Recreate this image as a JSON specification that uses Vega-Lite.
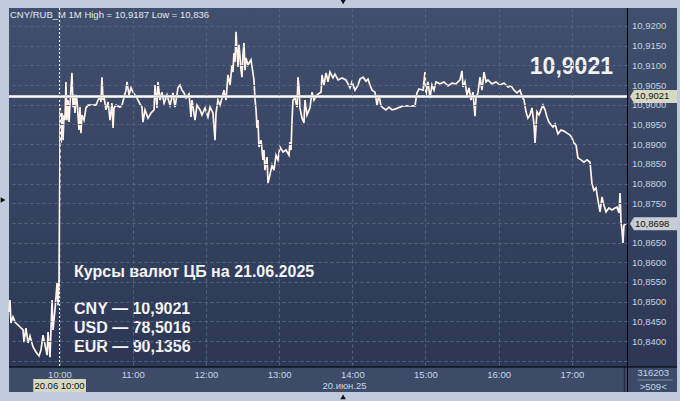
{
  "$schema": "https://vega.github.io/schema/vega-lite/v6.json",
  "width": 618,
  "height": 359,
  "autosize": {"type": "none"},
  "padding": {"left": 9, "top": 8, "right": 53, "bottom": 34},
  "background": "#bfcbdc",
  "config": {"view": {"stroke": null}, "font": "Liberation Sans", "axis": {"labelOverlap": false, "labelSeparation": 0}},
  "data": {"values": [
    {"m":-41.4,"p":10.8474},{"m":-40.6,"p":10.8504},{"m":-39.8,"p":10.8446},{"m":-38.1,"p":10.8461},{"m":-36.5,"p":10.8448},
    {"m":-29.9,"p":10.8428},{"m":-29.1,"p":10.8397},{"m":-27.5,"p":10.8433},{"m":-25.8,"p":10.8395},{"m":-24.2,"p":10.8413},
    {"m":-21.7,"p":10.8385},{"m":-19.3,"p":10.8372},{"m":-16.8,"p":10.8362},{"m":-15.2,"p":10.8377},{"m":-13.5,"p":10.8415},
    {"m":-11.9,"p":10.8390},{"m":-10.2,"p":10.8364},{"m":-9.4,"p":10.8423},{"m":-7.8,"p":10.8359},{"m":-6.1,"p":10.8504},
    {"m":-5.3,"p":10.8428},{"m":-3.7,"p":10.8479},{"m":-2.0,"p":10.8547},{"m":-1.2,"p":10.8491},{"m":-0.4,"p":10.8555},
    {"m":0.3,"p":10.8852},{"m":0.6,"p":10.8992},{"m":1.2,"p":10.8903},{"m":2.0,"p":10.8979},{"m":2.9,"p":10.8910},
    {"m":3.7,"p":10.8974},{"m":4.5,"p":10.8961},{"m":5.3,"p":10.9058},{"m":6.1,"p":10.8961},{"m":7.0,"p":10.9012},
    {"m":7.8,"p":10.8956},{"m":8.6,"p":10.9002},{"m":10.2,"p":10.9081},{"m":11.1,"p":10.8994},{"m":11.9,"p":10.9025},
    {"m":12.7,"p":10.8979},{"m":13.5,"p":10.9025},{"m":14.3,"p":10.9012},{"m":16.0,"p":10.8936},{"m":16.8,"p":10.8994},
    {"m":17.6,"p":10.8928},{"m":18.4,"p":10.8974},{"m":20.1,"p":10.8961},{"m":21.7,"p":10.8992},{"m":23.4,"p":10.8999},
    {"m":26.6,"p":10.8999},{"m":29.9,"p":10.8999},{"m":31.6,"p":10.9012},{"m":33.2,"p":10.9020},{"m":34.0,"p":10.9007},
    {"m":34.8,"p":10.9070},{"m":35.7,"p":10.9012},{"m":36.5,"p":10.9020},{"m":38.1,"p":10.8987},{"m":39.8,"p":10.9007},
    {"m":41.4,"p":10.8961},{"m":43.0,"p":10.9004},{"m":43.9,"p":10.8941},{"m":44.7,"p":10.8992},{"m":46.3,"p":10.8999},
    {"m":49.6,"p":10.8994},{"m":51.2,"p":10.8999},{"m":54.5,"p":10.9037},{"m":55.3,"p":10.9058},{"m":57.0,"p":10.9025},
    {"m":58.6,"p":10.9043},{"m":60.2,"p":10.9032},{"m":61.9,"p":10.9025},{"m":63.5,"p":10.9017},{"m":66.0,"p":10.9002},
    {"m":67.6,"p":10.8994},{"m":68.4,"p":10.8956},{"m":70.1,"p":10.8987},{"m":72.5,"p":10.8966},{"m":75.0,"p":10.8979},
    {"m":77.5,"p":10.8987},{"m":78.3,"p":10.9050},{"m":79.9,"p":10.8992},{"m":80.7,"p":10.9058},{"m":82.4,"p":10.9012},
    {"m":84.0,"p":10.9032},{"m":85.7,"p":10.9004},{"m":88.1,"p":10.9025},{"m":90.6,"p":10.8999},{"m":93.0,"p":10.9030},
    {"m":94.7,"p":10.8994},{"m":97.1,"p":10.9043},{"m":98.8,"p":10.9050},{"m":100.4,"p":10.9037},{"m":102.1,"p":10.9030},
    {"m":103.7,"p":10.9017},{"m":106.2,"p":10.9027},{"m":107.8,"p":10.8969},{"m":108.6,"p":10.9012},{"m":111.1,"p":10.8961},
    {"m":112.7,"p":10.8999},{"m":115.2,"p":10.8987},{"m":116.8,"p":10.8974},{"m":119.3,"p":10.8992},{"m":121.7,"p":10.8969},
    {"m":123.4,"p":10.8994},{"m":125.8,"p":10.8979},{"m":127.5,"p":10.8910},{"m":128.3,"p":10.8979},{"m":129.9,"p":10.9012},
    {"m":131.6,"p":10.8999},{"m":133.2,"p":10.9017},{"m":134.8,"p":10.9037},{"m":136.5,"p":10.9012},{"m":138.1,"p":10.9076},
    {"m":139.8,"p":10.9050},{"m":141.4,"p":10.9101},{"m":142.2,"p":10.9083},{"m":143.0,"p":10.9131},{"m":143.9,"p":10.9109},
    {"m":144.7,"p":10.9185},{"m":145.5,"p":10.9139},{"m":146.3,"p":10.9096},{"m":147.1,"p":10.9152},{"m":148.0,"p":10.9121},
    {"m":148.8,"p":10.9088},{"m":149.6,"p":10.9070},{"m":150.4,"p":10.9126},{"m":151.2,"p":10.9157},{"m":152.1,"p":10.9088},
    {"m":152.9,"p":10.9119},{"m":154.5,"p":10.9101},{"m":157.0,"p":10.9114},{"m":159.4,"p":10.9063},{"m":160.3,"p":10.9012},
    {"m":161.1,"p":10.8987},{"m":161.9,"p":10.8941},{"m":162.7,"p":10.8961},{"m":163.5,"p":10.8893},{"m":165.2,"p":10.8910},
    {"m":166.8,"p":10.8860},{"m":167.6,"p":10.8885},{"m":168.4,"p":10.8834},{"m":170.1,"p":10.8867},{"m":170.9,"p":10.8801},
    {"m":172.5,"p":10.8822},{"m":174.2,"p":10.8847},{"m":175.8,"p":10.8834},{"m":177.5,"p":10.8872},{"m":179.1,"p":10.8860},
    {"m":180.7,"p":10.8893},{"m":183.2,"p":10.8880},{"m":185.7,"p":10.8885},{"m":188.1,"p":10.8872},{"m":188.9,"p":10.8905},
    {"m":189.8,"p":10.8885},{"m":190.6,"p":10.8961},{"m":191.4,"p":10.9012},{"m":193.0,"p":10.9017},{"m":194.7,"p":10.8994},
    {"m":195.5,"p":10.9070},{"m":196.3,"p":10.9045},{"m":197.1,"p":10.8992},{"m":198.8,"p":10.8966},{"m":200.4,"p":10.8954},
    {"m":201.2,"p":10.9012},{"m":202.9,"p":10.8974},{"m":205.3,"p":10.8992},{"m":207.0,"p":10.9032},{"m":208.6,"p":10.9012},
    {"m":210.3,"p":10.9022},{"m":211.9,"p":10.9027},{"m":214.4,"p":10.9032},{"m":215.2,"p":10.9076},{"m":216.8,"p":10.9050},
    {"m":218.5,"p":10.9081},{"m":220.1,"p":10.9058},{"m":221.7,"p":10.9083},{"m":224.2,"p":10.9068},{"m":225.8,"p":10.9078},
    {"m":228.3,"p":10.9063},{"m":231.6,"p":10.9068},{"m":234.8,"p":10.9063},{"m":236.5,"p":10.9053},{"m":238.1,"p":10.9043},
    {"m":239.8,"p":10.9058},{"m":242.2,"p":10.9037},{"m":244.7,"p":10.9050},{"m":246.3,"p":10.9065},{"m":248.8,"p":10.9070},
    {"m":251.2,"p":10.9060},{"m":252.9,"p":10.9065},{"m":254.5,"p":10.9050},{"m":256.2,"p":10.9037},{"m":258.6,"p":10.9032},
    {"m":260.3,"p":10.8999},{"m":261.9,"p":10.9025},{"m":263.5,"p":10.8997},{"m":265.2,"p":10.8992},{"m":267.6,"p":10.8987},
    {"m":270.1,"p":10.8994},{"m":272.6,"p":10.8987},{"m":275.0,"p":10.8989},{"m":281.6,"p":10.8997},{"m":287.3,"p":10.8997},
    {"m":291.4,"p":10.8997},{"m":293.0,"p":10.9030},{"m":294.7,"p":10.9040},{"m":298.0,"p":10.9037},{"m":299.6,"p":10.9083},
    {"m":300.4,"p":10.9025},{"m":302.1,"p":10.9058},{"m":303.7,"p":10.9017},{"m":305.3,"p":10.9050},{"m":307.0,"p":10.9037},
    {"m":308.6,"p":10.9058},{"m":311.9,"p":10.9053},{"m":315.2,"p":10.9058},{"m":318.5,"p":10.9048},{"m":321.7,"p":10.9055},
    {"m":325.0,"p":10.9053},{"m":328.3,"p":10.9063},{"m":329.9,"p":10.9086},{"m":330.8,"p":10.9045},{"m":332.4,"p":10.9058},
    {"m":334.0,"p":10.9025},{"m":335.7,"p":10.9043},{"m":337.3,"p":10.9012},{"m":338.9,"p":10.9032},{"m":340.6,"p":10.8971},
    {"m":341.4,"p":10.9017},{"m":343.0,"p":10.9030},{"m":344.7,"p":10.9070},{"m":346.3,"p":10.9037},{"m":348.0,"p":10.9083},
    {"m":349.6,"p":10.9058},{"m":351.2,"p":10.9063},{"m":354.5,"p":10.9053},{"m":357.8,"p":10.9058},{"m":361.1,"p":10.9050},
    {"m":364.4,"p":10.9055},{"m":367.6,"p":10.9045},{"m":370.1,"p":10.9048},{"m":372.6,"p":10.9037},{"m":375.0,"p":10.9030},
    {"m":377.5,"p":10.9037},{"m":379.1,"p":10.9022},{"m":380.8,"p":10.9012},{"m":382.4,"p":10.8982},{"m":384.0,"p":10.8966},
    {"m":385.7,"p":10.8974},{"m":387.3,"p":10.8992},{"m":389.0,"p":10.8949},{"m":389.8,"p":10.8903},{"m":391.4,"p":10.8982},
    {"m":393.0,"p":10.8974},{"m":394.7,"p":10.8987},{"m":396.3,"p":10.8999},{"m":398.0,"p":10.8987},{"m":399.6,"p":10.8969},
    {"m":401.2,"p":10.8956},{"m":402.9,"p":10.8949},{"m":404.5,"p":10.8943},{"m":406.2,"p":10.8951},{"m":408.6,"p":10.8926},
    {"m":411.1,"p":10.8936},{"m":413.5,"p":10.8933},{"m":416.0,"p":10.8928},{"m":418.5,"p":10.8923},{"m":420.1,"p":10.8916},
    {"m":421.7,"p":10.8903},{"m":423.4,"p":10.8898},{"m":425.0,"p":10.8865},{"m":427.5,"p":10.8860},{"m":429.9,"p":10.8854},
    {"m":432.4,"p":10.8860},{"m":434.9,"p":10.8854},{"m":436.5,"p":10.8799},{"m":438.1,"p":10.8783},{"m":439.8,"p":10.8789},
    {"m":441.4,"p":10.8758},{"m":443.1,"p":10.8728},{"m":444.7,"p":10.8766},{"m":446.3,"p":10.8745},{"m":448.0,"p":10.8728},
    {"m":450.4,"p":10.8738},{"m":452.9,"p":10.8733},{"m":455.4,"p":10.8738},{"m":457.0,"p":10.8740},{"m":458.6,"p":10.8725},
    {"m":459.5,"p":10.8776},{"m":460.3,"p":10.8702},{"m":461.1,"p":10.8682},{"m":461.9,"p":10.8649},{"m":462.7,"p":10.8694},
    {"m":464.4,"p":10.8698}
  ]},
  "layer": [
    {
      "data": {"values": [{}]},
      "mark": {"type": "rect", "color": {"gradient": "linear", "x1": 0, "y1": 0, "x2": 0, "y2": 1, "stops": [{"offset": 0, "color": "#414f6e"}, {"offset": 1, "color": "#2b3755"}]}},
      "encoding": {
        "x": {"datum": -41.4, "type": "quantitative"}, "x2": {"datum": 506.2},
        "y": {"datum": 10.92457, "type": "quantitative"}, "y2": {"datum": 10.8334}
      }
    },
    {
      "data": {"values": [{}]},
      "mark": {"type": "rect", "color": "#3d4a68"},
      "encoding": {
        "x": {"datum": -41.4, "type": "quantitative"}, "x2": {"datum": 506.2},
        "y": {"datum": 10.8334, "type": "quantitative"}, "y2": {"datum": 10.82705}
      }
    },
    {
      "data": {"values": [{}]},
      "mark": {"type": "rule", "color": "#1f283c", "strokeWidth": 1},
      "encoding": {
        "x": {"datum": 463.0, "type": "quantitative"},
        "y": {"datum": 10.8334, "type": "quantitative"}, "y2": {"datum": 10.82705}
      }
    },
    {
      "data": {"values": [{}]},
      "mark": {"type": "rule", "color": "#f2f2f2", "strokeWidth": 1, "strokeDash": [2, 2]},
      "encoding": {
        "x": {"datum": 0, "type": "quantitative"},
        "y": {"datum": 10.92457, "type": "quantitative"}, "y2": {"datum": 10.8334}
      }
    },
    {
      "mark": {"type": "line", "color": "#fff3ea", "strokeWidth": 1.7},
      "encoding": {
        "x": {"field": "m", "type": "quantitative",
          "scale": {"domain": [-41.4, 465.2], "nice": false, "zero": false},
          "axis": {"values": [0, 60, 120, 180, 240, 300, 360, 420], "labelExpr": "(datum.value/60+10) + ':00'",
            "title": null, "grid": true, "gridColor": "#56647f", "gridDash": [3, 3], "domain": false, "ticks": false,
            "labelColor": "#c9d4e8", "labelFontSize": 9.5, "labelPadding": 2.5, "labelFont": "Liberation Sans",
            "labelFlush": false, "labelOverlap": false, "zindex": 1}},
        "y": {"field": "p", "type": "quantitative",
          "scale": {"domain": [10.8334, 10.92457], "nice": false, "zero": false},
          "axis": {"orient": "right", "tickCount": 17,
            "labelExpr": "(abs(datum.value-10.87)<0.0001 || datum.value < 10.837) ? '' : replace(format(datum.value, '.4f'), '.', ',')",
            "title": null, "grid": true, "gridColor": "#56647f", "gridDash": [3, 3], "domain": false, "ticks": false,
            "labelColor": "#c9d1de", "labelFontSize": 9.5, "labelPadding": 4.5, "labelFont": "Liberation Sans",
            "labelOverlap": false, "labelSeparation": 0, "labelBound": false, "labelFlush": false, "zindex": 1}}
      }
    },
    {
      "data": {"values": [{}]},
      "mark": {"type": "rule", "color": "#c4c4c4", "strokeWidth": 3},
      "encoding": {
        "x": {"datum": -41.4, "type": "quantitative"}, "x2": {"datum": 465.2},
        "y": {"datum": 10.9021, "type": "quantitative"}
      }
    },
    {
      "data": {"values": [{}]},
      "mark": {"type": "rule", "color": "#fbfbfb", "strokeWidth": 1.3},
      "encoding": {
        "x": {"datum": -41.4, "type": "quantitative"}, "x2": {"datum": 465.2},
        "y": {"datum": 10.9021, "type": "quantitative"}
      }
    },
    {
      "data": {"values": [{}]},
      "mark": {"type": "rule", "color": "#000000", "strokeWidth": 1},
      "encoding": {
        "x": {"datum": 465.6, "type": "quantitative"},
        "y": {"datum": 10.92457, "type": "quantitative"}, "y2": {"datum": 10.82705}
      }
    },
    {
      "data": {"values": [{}]},
      "mark": {"type": "rule", "color": "#000000", "strokeWidth": 1},
      "encoding": {
        "x": {"datum": -41.4, "type": "quantitative"}, "x2": {"datum": 506.2},
        "y": {"datum": 10.8334, "type": "quantitative"}
      }
    },
    {
      "data": {"values": [{}]},
      "mark": {"type": "rect", "color": "#d6d9c1"},
      "encoding": {
        "x": {"datum": 470.9, "type": "quantitative"}, "x2": {"datum": 506.2},
        "y": {"datum": 10.90375, "type": "quantitative"}, "y2": {"datum": 10.90045}
      }
    },
    {
      "data": {"values": [{}]},
      "mark": {"type": "point", "filled": true, "color": "#d6d9c1", "opacity": 1, "size": 169, "shape": "M0,-1L0,1L-0.62,0Z"},
      "encoding": {
        "x": {"datum": 470.9, "type": "quantitative"},
        "y": {"datum": 10.9021, "type": "quantitative"}
      }
    },
    {
      "data": {"values": [{}]},
      "mark": {"type": "text", "text": "10,9021", "align": "left", "baseline": "middle", "fontSize": 9.5, "color": "#111111"},
      "encoding": {
        "x": {"datum": 471.7, "type": "quantitative"},
        "y": {"datum": 10.9021, "type": "quantitative"}
      }
    },
    {
      "data": {"values": [{}]},
      "mark": {"type": "rect", "color": "#c8ccd4"},
      "encoding": {
        "x": {"datum": 470.9, "type": "quantitative"}, "x2": {"datum": 506.2},
        "y": {"datum": 10.87145, "type": "quantitative"}, "y2": {"datum": 10.86815}
      }
    },
    {
      "data": {"values": [{}]},
      "mark": {"type": "point", "filled": true, "color": "#c8ccd4", "opacity": 1, "size": 169, "shape": "M0,-1L0,1L-0.62,0Z"},
      "encoding": {
        "x": {"datum": 470.9, "type": "quantitative"},
        "y": {"datum": 10.8698, "type": "quantitative"}
      }
    },
    {
      "data": {"values": [{}]},
      "mark": {"type": "text", "text": "10,8698", "align": "left", "baseline": "middle", "fontSize": 9.5, "color": "#111111"},
      "encoding": {
        "x": {"datum": 471.7, "type": "quantitative"},
        "y": {"datum": 10.8698, "type": "quantitative"}
      }
    },
    {
      "data": {"values": [{}]},
      "mark": {"type": "text", "text": "CNY/RUB_M 1M High = 10,9187 Low = 10,836", "align": "left", "baseline": "middle", "fontSize": 9.5, "color": "#e4e8ef"},
      "encoding": {
        "x": {"datum": -40.6, "type": "quantitative"},
        "y": {"datum": 10.92279, "type": "quantitative"}
      }
    },
    {
      "data": {"values": [{}]},
      "mark": {"type": "text", "text": "10,9021", "align": "right", "baseline": "middle", "fontSize": 23, "fontWeight": "bold", "color": "#f2f2f2"},
      "encoding": {
        "x": {"datum": 453.7, "type": "quantitative"},
        "y": {"datum": 10.90966, "type": "quantitative"}
      }
    },
    {
      "data": {"values": [{}]},
      "mark": {"type": "text", "text": "Курсы валют ЦБ на 21.06.2025", "align": "left", "baseline": "middle", "fontSize": 16, "fontWeight": "bold", "color": "#f4f4f4"},
      "encoding": {
        "x": {"datum": 11.9, "type": "quantitative"},
        "y": {"datum": 10.8574, "type": "quantitative"}
      }
    },
    {
      "data": {"values": [{}]},
      "mark": {"type": "text", "text": "CNY — 10,9021", "align": "left", "baseline": "middle", "fontSize": 16, "fontWeight": "bold", "color": "#f4f4f4"},
      "encoding": {
        "x": {"datum": 11.9, "type": "quantitative"},
        "y": {"datum": 10.84813, "type": "quantitative"}
      }
    },
    {
      "data": {"values": [{}]},
      "mark": {"type": "text", "text": "USD — 78,5016", "align": "left", "baseline": "middle", "fontSize": 16, "fontWeight": "bold", "color": "#f4f4f4"},
      "encoding": {
        "x": {"datum": 11.9, "type": "quantitative"},
        "y": {"datum": 10.8433, "type": "quantitative"}
      }
    },
    {
      "data": {"values": [{}]},
      "mark": {"type": "text", "text": "EUR — 90,1356", "align": "left", "baseline": "middle", "fontSize": 16, "fontWeight": "bold", "color": "#f4f4f4"},
      "encoding": {
        "x": {"datum": 11.9, "type": "quantitative"},
        "y": {"datum": 10.8386, "type": "quantitative"}
      }
    },
    {
      "data": {"values": [{}]},
      "mark": {"type": "rect", "color": "#d6d9c1"},
      "encoding": {
        "x": {"datum": -21.5, "type": "quantitative"}, "x2": {"datum": 21.7},
        "y": {"datum": 10.83035, "type": "quantitative"}, "y2": {"datum": 10.82705}
      }
    },
    {
      "data": {"values": [{}]},
      "mark": {"type": "text", "text": "20.06 10:00", "align": "center", "baseline": "middle", "fontSize": 9.5, "color": "#111111"},
      "encoding": {
        "x": {"datum": 0, "type": "quantitative"},
        "y": {"datum": 10.82857, "type": "quantitative"}
      }
    },
    {
      "data": {"values": [{}]},
      "mark": {"type": "text", "text": "20.июн.25", "align": "center", "baseline": "middle", "fontSize": 9.5, "color": "#c9d4e8"},
      "encoding": {
        "x": {"datum": 233.6, "type": "quantitative"},
        "y": {"datum": 10.82857, "type": "quantitative"}
      }
    },
    {
      "data": {"values": [{}]},
      "mark": {"type": "text", "text": "316203", "align": "center", "baseline": "middle", "fontSize": 9.5, "color": "#c9d4e8"},
      "encoding": {
        "x": {"datum": 486.7, "type": "quantitative"},
        "y": {"datum": 10.8318, "type": "quantitative"}
      }
    },
    {
      "data": {"values": [{}]},
      "mark": {"type": "rule", "color": "#7d8aa3", "strokeWidth": 1},
      "encoding": {
        "x": {"datum": 474.0, "type": "quantitative"}, "x2": {"datum": 502.6},
        "y": {"datum": 10.8301, "type": "quantitative"}
      }
    },
    {
      "data": {"values": [{}]},
      "mark": {"type": "text", "text": ">509<", "align": "center", "baseline": "middle", "fontSize": 9.5, "color": "#c9d4e8"},
      "encoding": {
        "x": {"datum": 486.7, "type": "quantitative"},
        "y": {"datum": 10.8284, "type": "quantitative"}
      }
    },
    {
      "data": {"values": [{}]},
      "mark": {"type": "point", "shape": "triangle-down", "filled": true, "color": "#111111", "opacity": 1, "size": 30},
      "encoding": {
        "x": {"datum": 232.5, "type": "quantitative"},
        "y": {"datum": 10.9261, "type": "quantitative"}
      }
    },
    {
      "data": {"values": [{}]},
      "mark": {"type": "point", "shape": "triangle-right", "filled": true, "color": "#111111", "opacity": 1, "size": 30},
      "encoding": {
        "x": {"datum": -46.3, "type": "quantitative"},
        "y": {"datum": 10.8758, "type": "quantitative"}
      }
    },
    {
      "data": {"values": [{}]},
      "mark": {"type": "point", "shape": "triangle-up", "filled": true, "color": "#111111", "opacity": 1, "size": 30},
      "encoding": {
        "x": {"datum": 232.5, "type": "quantitative"},
        "y": {"datum": 10.8258, "type": "quantitative"}
      }
    }
  ]
}
